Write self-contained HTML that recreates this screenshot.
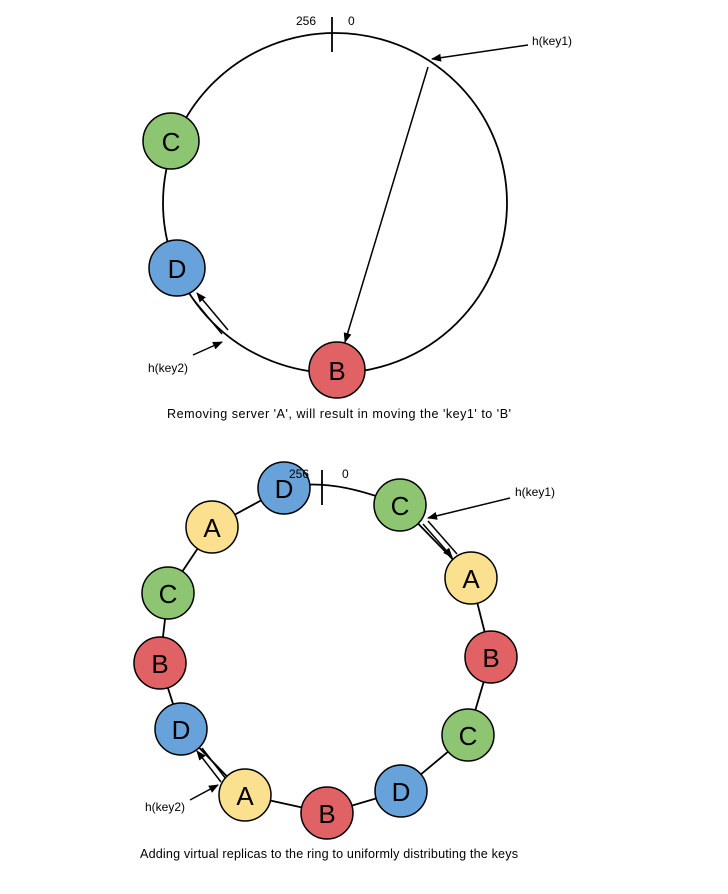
<!DOCTYPE html>
<html><head><style>
body{margin:0;background:#fff;}
svg{display:block;font-family:"Liberation Sans",Arial,sans-serif;}
.n{stroke:#000;stroke-width:1.5}
.l{font-size:26px;text-anchor:middle;dominant-baseline:central}
</style></head><body>
<svg width="728" height="894" viewBox="0 0 728 894">
<defs><marker id="a" markerWidth="10" markerHeight="8" refX="9" refY="4" orient="auto" markerUnits="userSpaceOnUse"><path d="M0,0L10,4L0,8z" fill="#000"/></marker></defs>
<!-- top -->
<ellipse cx="335" cy="203" rx="172" ry="170" fill="none" stroke="#000" stroke-width="1.8"/>
<line x1="332" y1="17" x2="332" y2="52" stroke="#000" stroke-width="1.8"/>
<text x="296" y="25" font-size="12">256</text><text x="348" y="25" font-size="12">0</text>
<text x="532" y="45" font-size="12">h(key1)</text>
<line x1="528" y1="45" x2="432" y2="59" stroke="#000" stroke-width="1.5" marker-end="url(#a)"/>
<line x1="428" y1="67" x2="345" y2="342" stroke="#000" stroke-width="1.5" marker-end="url(#a)"/>
<text x="148" y="372" font-size="12">h(key2)</text>
<line x1="193" y1="355" x2="222" y2="342" stroke="#000" stroke-width="1.5" marker-end="url(#a)"/>
<line x1="228" y1="330" x2="197" y2="293" stroke="#000" stroke-width="1.5" marker-end="url(#a)"/>
<line x1="222" y1="334" x2="193" y2="299" stroke="#000" stroke-width="1.5"/>
<circle class="n" cx="171" cy="141" r="28" fill="#8dc572"/><text class="l" x="171" y="142">C</text>
<circle class="n" cx="177" cy="268" r="28" fill="#68a2db"/><text class="l" x="177" y="269">D</text>
<circle class="n" cx="337" cy="370" r="28" fill="#e06264"/><text class="l" x="337" y="371">B</text>
<text x="167" y="418" font-size="12.6" textLength="344">Removing server 'A', will result in moving the 'key1'  to 'B'</text>
<!-- bottom -->
<path d="M284,488 Q330,476 400,505 L471,578 L491,657 L468,735 L401,791 L327,813 L245,795 L181,729 L160,663 L168,593 L212,527 Z" fill="none" stroke="#000" stroke-width="1.8"/>
<line x1="322" y1="470" x2="322" y2="505" stroke="#000" stroke-width="1.8"/>
<text x="342" y="478" font-size="12">0</text>
<text x="515" y="496" font-size="12">h(key1)</text>
<line x1="510" y1="498" x2="428" y2="518" stroke="#000" stroke-width="1.5" marker-end="url(#a)"/>
<line x1="423" y1="524" x2="452" y2="557" stroke="#000" stroke-width="1.5" marker-end="url(#a)"/>
<line x1="428" y1="521" x2="457" y2="554" stroke="#000" stroke-width="1.5"/>
<text x="145" y="811" font-size="12">h(key2)</text>
<line x1="190" y1="800" x2="218" y2="785" stroke="#000" stroke-width="1.5" marker-end="url(#a)"/>
<line x1="221" y1="782" x2="197" y2="751" stroke="#000" stroke-width="1.5" marker-end="url(#a)"/>
<line x1="226" y1="779" x2="202" y2="748" stroke="#000" stroke-width="1.5"/>
<g>
<circle class="n" cx="284" cy="488" r="26" fill="#68a2db"/><text class="l" x="284" y="489">D</text>
<circle class="n" cx="212" cy="527" r="26" fill="#fbe08f"/><text class="l" x="212" y="528">A</text>
<circle class="n" cx="168" cy="593" r="26" fill="#8dc572"/><text class="l" x="168" y="594">C</text>
<circle class="n" cx="160" cy="663" r="26" fill="#e06264"/><text class="l" x="160" y="664">B</text>
<circle class="n" cx="181" cy="729" r="26" fill="#68a2db"/><text class="l" x="181" y="730">D</text>
<circle class="n" cx="245" cy="795" r="26" fill="#fbe08f"/><text class="l" x="245" y="796">A</text>
<circle class="n" cx="327" cy="813" r="26" fill="#e06264"/><text class="l" x="327" y="814">B</text>
<circle class="n" cx="401" cy="791" r="26" fill="#68a2db"/><text class="l" x="401" y="792">D</text>
<circle class="n" cx="468" cy="735" r="26" fill="#8dc572"/><text class="l" x="468" y="736">C</text>
<circle class="n" cx="491" cy="657" r="26" fill="#e06264"/><text class="l" x="491" y="658">B</text>
<circle class="n" cx="471" cy="578" r="26" fill="#fbe08f"/><text class="l" x="471" y="579">A</text>
<circle class="n" cx="400" cy="505" r="26" fill="#8dc572"/><text class="l" x="400" y="506">C</text>
</g>
<text x="289" y="478" font-size="12">256</text>
<text x="140" y="858" font-size="12.6" textLength="378">Adding virtual replicas to the ring to uniformly distributing the keys</text>
</svg>
</body></html>
